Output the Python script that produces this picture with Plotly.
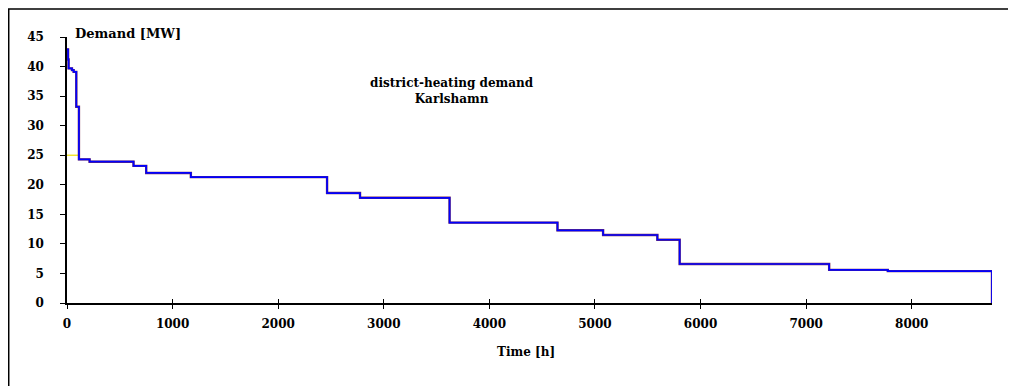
import plotly.graph_objects as go

# Load-duration step curve: hour at which each level starts, and the level (MW)
step_start_h = [0, 10, 15, 47, 63, 88, 113, 214, 630, 750, 1173, 2463, 2775, 3623,
                4645, 5077, 5591, 5802, 7218, 7773]
step_level_mw = [42.9, 41.2, 39.7, 39.4, 39.1, 33.2, 24.3, 23.9, 23.2, 22.0, 21.3,
                 18.6, 17.8, 13.6, 12.3, 11.5, 10.7, 6.6, 5.6, 5.4]
end_hour = 8760

# small yellow reference segment at 25 MW
ref_x = [0, 113]
ref_y = [25, 25]

x_ticks = [0, 1000, 2000, 3000, 4000, 5000, 6000, 7000, 8000]
y_ticks = [0, 5, 10, 15, 20, 25, 30, 35, 40, 45]

xs = step_start_h + [end_hour, end_hour]
ys = step_level_mw + [step_level_mw[-1], 0]

FONT = "DejaVu Serif"

fig = go.Figure()
fig.add_trace(go.Scatter(x=ref_x, y=ref_y, mode="lines",
                         line=dict(color="#f0e000", width=1.2), showlegend=False))
fig.add_trace(go.Scatter(x=xs, y=ys, mode="lines", line_shape="hv",
                         line=dict(color="#7a3050", width=2.4), showlegend=False))
fig.add_trace(go.Scatter(x=xs, y=ys, mode="lines", line_shape="hv",
                         line=dict(color="#0000ff", width=1.7), showlegend=False))
# invisible trace to activate overlay axis for crossing ticks
fig.add_trace(go.Scatter(x=[0], y=[0], xaxis="x2", mode="markers",
                         marker=dict(opacity=0), showlegend=False, hoverinfo="skip"))

fig.update_layout(
    width=1008, height=378,
    margin=dict(l=59, r=24, t=29, b=83),
    paper_bgcolor="white", plot_bgcolor="white",
    font=dict(family=FONT, size=12, color="black", weight="bold"),
    xaxis=dict(range=[0, end_hour], tickvals=x_ticks, showgrid=False, zeroline=False,
               showline=True, linecolor="black", linewidth=1.5,
               ticks="outside", ticklen=4, tickcolor="black", tickwidth=1,
               tickfont=dict(family=FONT, size=12, weight="bold"),
               ticklabelstandoff=5),
    xaxis2=dict(range=[0, end_hour], tickvals=x_ticks, overlaying="x", side="bottom",
                showgrid=False, zeroline=False, showline=False, showticklabels=False,
                ticks="inside", ticklen=4, tickcolor="black", tickwidth=1),
    yaxis=dict(range=[0, 45], tickvals=y_ticks, showgrid=False, zeroline=False,
               showline=True, linecolor="black", linewidth=1.5,
               ticks="outside", ticklen=5, tickcolor="black", tickwidth=1,
               tickfont=dict(family=FONT, size=12, weight="bold"),
               ticklabelstandoff=14),
    shapes=[dict(type="rect", xref="paper", yref="paper",
                 x0=-0.0630, x1=1.2, y0=-0.5, y1=1.105,
                 line=dict(color="black", width=1.5), fillcolor="rgba(0,0,0,0)",
                 layer="below")],
    annotations=[
        dict(text="Demand [MW]", xref="paper", yref="paper", x=0.007, y=1.015,
             xanchor="left", yanchor="middle", showarrow=False,
             font=dict(family=FONT, size=13, weight="bold")),
        dict(text="district-heating demand<br>Karlshamn", xref="paper", yref="paper",
             x=0.4165, y=0.797, xanchor="center", yanchor="middle", showarrow=False,
             font=dict(family=FONT, size=12, weight="bold")),
        dict(text="Time [h]", xref="paper", yref="paper", x=0.4965, y=-0.183,
             xanchor="center", yanchor="middle", showarrow=False,
             font=dict(family=FONT, size=12, weight="bold")),
    ],
)

fig.write_html("out.html")
